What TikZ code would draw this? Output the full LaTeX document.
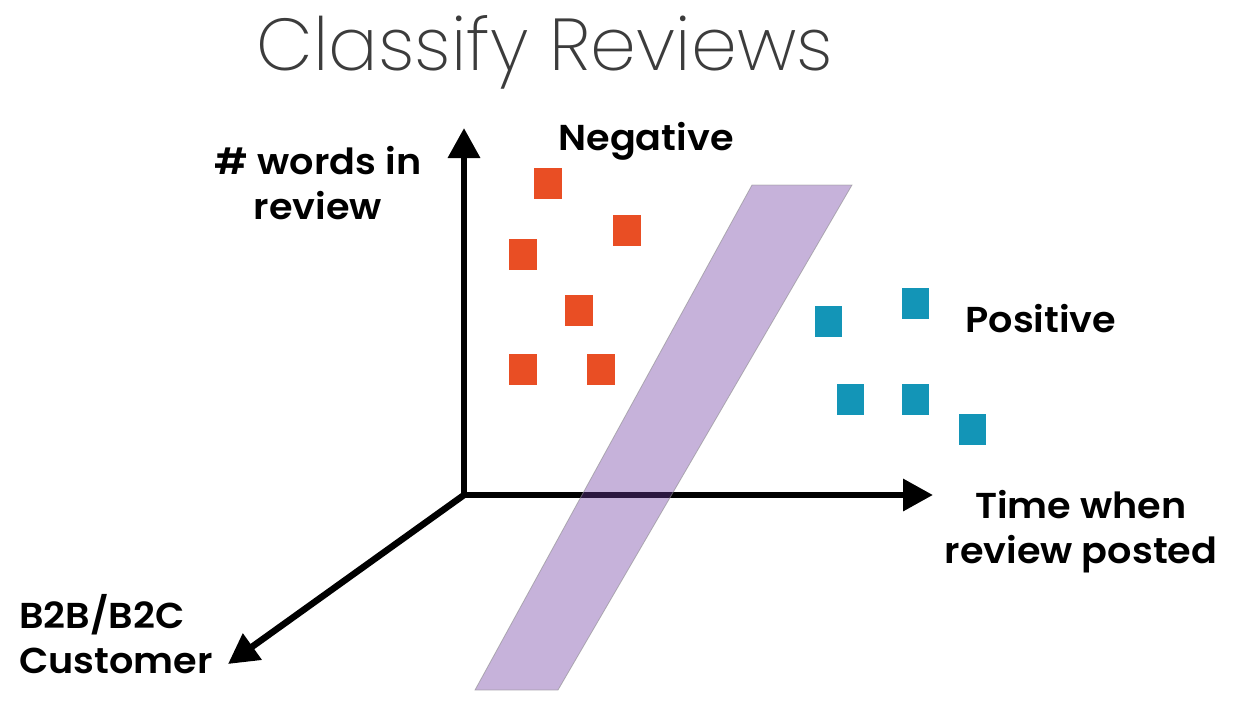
\documentclass[tikz,border=0pt]{standalone}
\usepackage{fontspec}
\setmainfont{Poppins}[UprightFont={* SemiBold}, FakeStretch=1.06]
\newfontfamily\titlefont{Poppins}[UprightFont={* ExtraLight}]
\usetikzlibrary{arrows.meta}
\definecolor{negc}{RGB}{233,78,36}
\definecolor{posc}{RGB}{19,149,183}
\definecolor{planec}{RGB}{112,62,162}
\definecolor{titlec}{RGB}{60,60,60}
\tikzset{
  axis/.style={line width=6.5pt, -{Triangle[length=30pt,width=31pt]}},
  negsq/.style={fill=negc, minimum width=28pt, minimum height=31pt, inner sep=0pt, draw=none},
  possq/.style={fill=posc, minimum width=27pt, minimum height=31pt, inner sep=0pt, draw=none},
  lab/.style={font=\fontsize{36}{45}\selectfont, align=center, inner sep=0pt, text=black},
  planest/.style={fill=planec, fill opacity=0.4, draw=black!45, draw opacity=0.6, line width=0.8pt}
}
\begin{document}
\begin{tikzpicture}[x=1pt,y=-1pt]
\useasboundingbox (0,0) rectangle (1240,720);
\node[font=\titlefont\fontsize{73.5}{78}\selectfont, text=titlec, anchor=base, inner sep=0pt] (title) at (545,70) {Classify Reviews};
% axes
\coordinate (o) at (464,495);
\coordinate (ytip) at (464,128);
\coordinate (xtip) at (933,495);
\coordinate (ztip) at (228,664);
\draw[line width=6.5pt, {Triangle[length=30pt,width=31pt]}-{Triangle[length=30pt,width=31pt]}, line join=miter] (ytip) -- (o) -- (xtip);
\draw[axis] (o) -- (ztip);
% negative squares
\node[negsq] (n1) at (548,183.5) {};
\node[negsq] (n2) at (626.5,230) {};
\node[negsq] (n3) at (522.5,254) {};
\node[negsq] (n4) at (578.5,310) {};
\node[negsq] (n5) at (522.5,369.5) {};
\node[negsq] (n6) at (600.5,369.5) {};
% positive squares
\node[possq] (p1) at (828.5,321.5) {};
\node[possq] (p2) at (915.5,303.5) {};
\node[possq] (p3) at (850,399.5) {};
\node[possq] (p4) at (915.5,399.5) {};
\node[possq] (p5) at (972.5,429) {};
% separating plane
\coordinate (pa) at (752,185);
\coordinate (pb) at (852,185);
\coordinate (pc) at (558,690);
\coordinate (pd) at (475,690);
\path[planest] (pa) -- (pb) -- (pc) -- (pd) -- cycle;
% labels
\node[lab, anchor=base] (neg) at (646,150) {Negative};
\node[lab, anchor=base] (pos) at (1041,332) {Positive};
\node[lab, anchor=base] (ylab) at (318,219) {\# words in\\review};
\node[lab, anchor=base] (xlab) at (1081,563) {Time when\\review posted};
\node[lab, align=left, anchor=base west] (zlab) at (19,673) {B2B/B2C\\Customer};
\end{tikzpicture}
\end{document}
